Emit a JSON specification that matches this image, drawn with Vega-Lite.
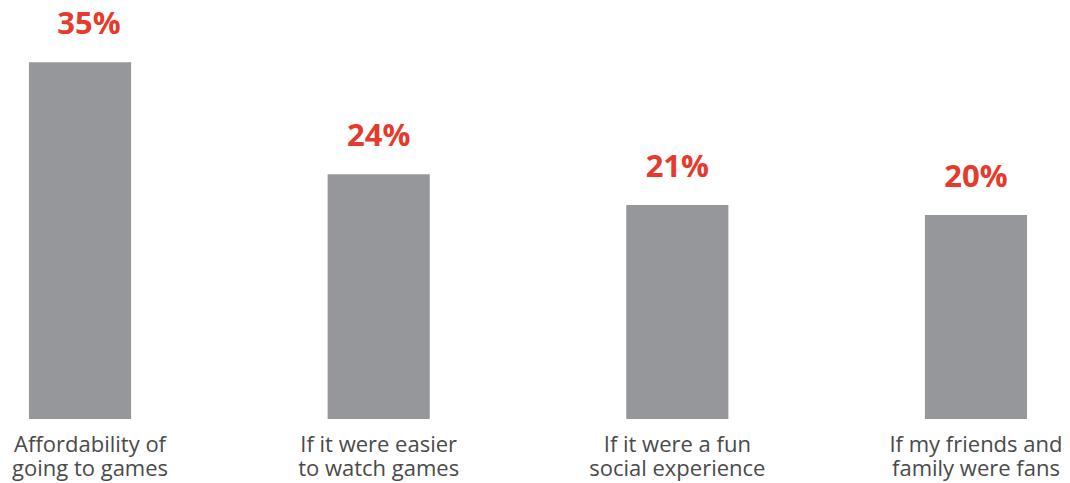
{
  "$schema": "https://vega.github.io/schema/vega-lite/v6.json",
  "autosize": "none",
  "width": 1056,
  "height": 419,
  "padding": {"left": 0, "top": 0, "right": 14, "bottom": 64},
  "background": "white",
  "config": {"view": {"stroke": null}},
  "data": {
    "values": [
      {"cat": "Affordability of|going to games", "pct": 35, "label": "35%"},
      {"cat": "If it were easier|to watch games", "pct": 24, "label": "24%"},
      {"cat": "If it were a fun|social experience", "pct": 21, "label": "21%"},
      {"cat": "If my friends and|family were fans", "pct": 20, "label": "20%"}
    ]
  },
  "encoding": {
    "x": {
      "field": "cat",
      "type": "nominal",
      "sort": ["Affordability of|going to games", "If it were easier|to watch games", "If it were a fun|social experience", "If my friends and|family were fans"],
      "scale": {"paddingInner": 0.658, "paddingOuter": 0.097},
      "axis": {
        "title": null,
        "domain": false,
        "ticks": false,
        "labelAngle": 0,
        "labelExpr": "split(datum.label, '|')",
        "labelFont": "Open Sans",
        "labelFontSize": 22,
        "labelColor": "#4a4a4a",
        "labelLineHeight": 24,
        "labelBaseline": "top",
        "labelPadding": 15,
        "labelOffset": {"condition": {"test": "indexof(datum.value, 'Affordability') == 0", "value": 10}, "value": 0}
      }
    },
    "y": {
      "field": "pct",
      "type": "quantitative",
      "scale": {"domain": [0, 41.1], "nice": false},
      "axis": null
    }
  },
  "layer": [
    {"mark": {"type": "bar", "color": "#96979b"}},
    {
      "transform": [{"filter": "datum.pct < 30"}],
      "mark": {"type": "text", "font": "Open Sans", "fontWeight": "bold", "fontSize": 31, "color": "#e63a2c", "baseline": "alphabetic", "dy": -28},
      "encoding": {"text": {"field": "label", "type": "nominal"}}
    },
    {
      "transform": [{"filter": "datum.pct >= 30"}],
      "mark": {"type": "text", "font": "Open Sans", "fontWeight": "bold", "fontSize": 31, "color": "#e63a2c", "baseline": "alphabetic", "dy": -28, "dx": 9},
      "encoding": {"text": {"field": "label", "type": "nominal"}}
    }
  ]
}
